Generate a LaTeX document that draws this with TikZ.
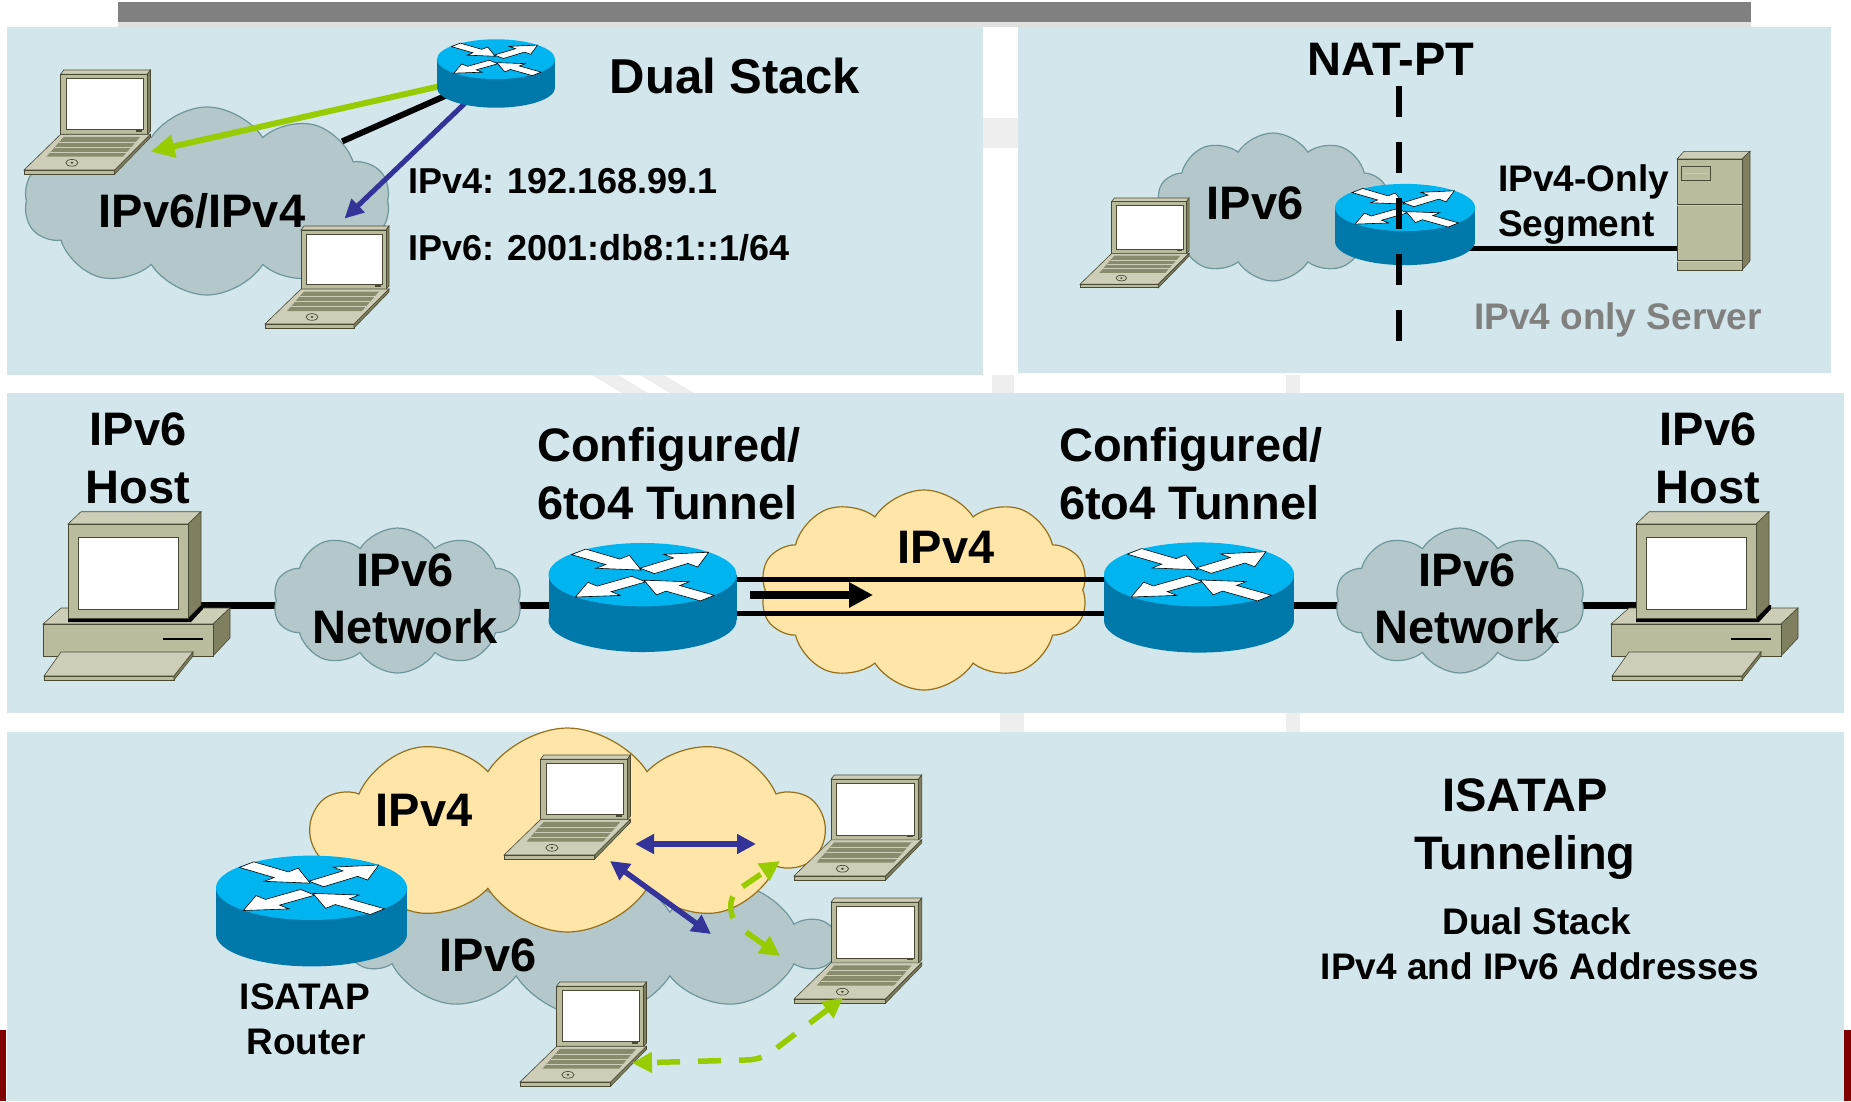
\documentclass[tikz,border=0pt]{standalone}
\usepackage{fontspec}
\setmainfont{Liberation Sans}
\usetikzlibrary{shapes.symbols,arrows.meta}

\definecolor{panel}{RGB}{210,230,236}
\definecolor{barGray}{RGB}{128,128,128}
\definecolor{cloudGray}{RGB}{180,199,203}
\definecolor{cloudGrayEdge}{RGB}{112,150,156}
\definecolor{cloudYel}{RGB}{255,230,168}
\definecolor{cloudYelEdge}{RGB}{150,112,24}
\definecolor{rtTop}{RGB}{0,180,240}
\definecolor{rtSide}{RGB}{0,120,170}
\definecolor{devBody}{RGB}{187,187,158}
\definecolor{devLight}{RGB}{206,206,184}
\definecolor{devSide}{RGB}{128,128,96}
\definecolor{devLine}{RGB}{74,74,52}
\definecolor{keyCol}{RGB}{138,138,108}
\definecolor{arrGreen}{RGB}{153,204,0}
\definecolor{arrBlue}{RGB}{51,51,153}
\definecolor{darkRed}{RGB}{128,0,0}
\definecolor{txtGray}{RGB}{128,128,128}
\definecolor{markGray}{RGB}{238,238,238}

\pgfdeclarelayer{bg}
\pgfdeclarelayer{wires}
\pgfsetlayers{bg,wires,main}

% one white arrow on the router face: start x, start y, direction
\newcommand\rtArrow[3]{%
  \filldraw[fill=white, draw=black, line width=0.6pt, shift={(#1,#2)}, rotate=#3]
    (0,-0.115) -- (0.48,-0.115) -- (0.48,-0.27) -- (0.88,0) -- (0.48,0.27) -- (0.48,0.115) -- (0,0.115) -- cycle;}

\tikzset{
  dev/.style={draw=devLine, line width=0.6pt},
  router/.pic={
    \coordinate (-c) at (0,0);
    \fill[rtSide] (0,0.243) ellipse [x radius=1, y radius=0.337];
    \fill[rtSide] (-1,-0.243) rectangle (1,0.243);
    \fill[rtTop] (0,-0.243) ellipse [x radius=1, y radius=0.337];
    \begin{scope}[shift={(0,-0.243)}, yscale=0.337]
      \rtArrow{-0.68}{-0.72}{-40.8}
      \rtArrow{0.05}{-0.12}{42}
      \rtArrow{-0.04}{0.14}{-140}
      \rtArrow{0.69}{0.74}{140}
    \end{scope}
  },
  laptop/.pic={
    \coordinate (-n) at (78,-6);
    \coordinate (-e) at (124,80);
    \coordinate (-c) at (62,51);
    \filldraw[dev, fill=devLight] (36,4) -- (39,0) -- (124,0) -- (121,4) -- cycle;
    \filldraw[dev, fill=devSide] (121,4) -- (124,0) -- (124,60) -- (121,63) -- cycle;
    \filldraw[dev, fill=devBody] (36,4) rectangle (121,63);
    \filldraw[fill=white, draw=devLine, line width=0.5pt] (41,8) rectangle (117,58);
    \fill[devLine] (110,58.4) rectangle (116,60.6);
    \filldraw[dev, fill=devLight] (36,63) -- (124,63) -- (89,98) -- (0,98) -- cycle;
    \filldraw[dev, fill=devBody] (0,98) rectangle (89,102);
    \filldraw[dev, fill=devSide] (89,98) -- (124,63) -- (124,66) -- (89,102) -- cycle;
    \fill[keyCol] (39,65.5) -- (114,65.5) -- (97,85) -- (22,85) -- cycle;
    \foreach \t in {70.5,75.5,80.5}
      \draw[devLight, line width=0.8pt] ({39-(\t-65.5)*17/19.5},\t) -- ({114-(\t-65.5)*17/19.5},\t);
    \draw[devLine, line width=0.7pt] (47,91) ellipse [x radius=6, y radius=3.3];
    \fill[devLine] (47,91) ellipse [x radius=1.6, y radius=1];
  },
  desktop/.pic={
    \coordinate (-cab) at (120,100.5);
    \filldraw[dev, fill=devLight] (7,119) -- (25,103) -- (194,103) -- (177,119) -- cycle;
    \filldraw[dev, fill=devSide] (177,119) -- (194,103) -- (194,133) -- (177,151) -- cycle;
    \filldraw[dev, fill=devBody] (7,119) rectangle (177,151);
    \draw[black, line width=2.5pt] (127,134) -- (167,134);
    \fill[black] (32,112) -- (153,112) -- (165,100) -- (167,100) -- (167,104) -- (155,117) -- (32,117) -- cycle;
    \filldraw[dev, fill=devLight] (32,19) -- (45,6.7) -- (165,6.7) -- (152,19) -- cycle;
    \filldraw[dev, fill=devSide] (152,19) -- (165,6.7) -- (165,100) -- (152,113) -- cycle;
    \filldraw[dev, fill=devBody] (32,19) rectangle (152,113);
    \filldraw[dev, fill=white] (42,32) rectangle (142,104);
    \filldraw[dev, fill=devLight] (25,147) -- (157,147) -- (138,171) -- (8,171) -- cycle;
    \filldraw[dev, fill=devBody] (8,171) rectangle (138,175);
    \filldraw[dev, fill=devSide] (138,171) -- (157,147) -- (157,151) -- (138,175) -- cycle;
  },
  server/.pic={
    \coordinate (-w) at (12,105);
    \filldraw[dev, fill=devLight] (12,16) -- (19,8.3) -- (85,8.3) -- (77,16) -- cycle;
    \filldraw[dev, fill=devSide] (77,16) -- (85,8.3) -- (85,118) -- (77,127) -- cycle;
    \filldraw[dev, fill=devBody] (12,16) rectangle (77,127);
    \draw[devLine, line width=0.8pt] (12,61) -- (77,61);
    \draw[devLight, line width=0.8pt] (12,62.3) -- (77,62.3);
    \draw[devLine, line width=0.8pt] (12,117) -- (77,117);
    \draw[devLight, line width=0.8pt] (12,118.3) -- (77,118.3);
    \filldraw[dev, fill=devBody] (16,23) rectangle (45,37);
    \draw[devLight, line width=1pt] (20,30) -- (42,30);
  },
  cloudbase/.style={cloud, cloud puffs=10, cloud puff arc=115, cloud ignores aspect,
    inner sep=0pt, line width=1.2pt},
  cloudG/.style={cloudbase, fill=cloudGray, draw=cloudGrayEdge},
  cloudY/.style={cloudbase, fill=cloudYel, draw=cloudYelEdge},
  t47/.style={font=\fontsize{47}{56}\selectfont\bfseries, inner sep=0pt, anchor=base},
  t37/.style={font=\fontsize{37}{44}\selectfont\bfseries, inner sep=0pt, anchor=base},
  t36/.style={font=\fontsize{36}{42}\selectfont\bfseries, inner sep=0pt, anchor=base west},
  wire/.style={black, line width=#1},
  wire/.default=6pt,
  garrow/.style={arrGreen, line width=6pt, -{Triangle[length=24pt,width=22pt]}},
  barrow/.style={arrBlue, line width=5pt, -{Triangle[length=19pt,width=18pt]}},
  bdouble/.style={arrBlue, line width=5.5pt, {Triangle[length=19pt,width=19pt]}-{Triangle[length=19pt,width=19pt]}},
  gdash/.style={arrGreen, line width=5.5pt, dash pattern=on 23pt off 18pt, -{Triangle[length=20pt,width=20pt]}},
  natdash/.style={black, line width=6.5pt, dash pattern=on 31pt off 25pt},
}

\begin{document}
\begin{tikzpicture}[x=1pt,y=-1pt]
\useasboundingbox (0,0) rectangle (1851,1101);

\begin{pgfonlayer}{bg}
  \fill[white] (0,0) rectangle (1851,1101);
  % faint background emblem showing between the panels
  \fill[markGray] (983,118) rectangle (1018,148);
  \fill[markGray] (592,375) -- (618,375) -- (648,393) -- (622,393) -- cycle;
  \fill[markGray] (640,375) -- (664,375) -- (694,393) -- (670,393) -- cycle;
  \fill[markGray] (992,375) rectangle (1014,393);
  \fill[markGray] (1286,375) rectangle (1300,393);
  \fill[markGray] (1000,713) rectangle (1024,732);
  \fill[markGray] (1286,713) rectangle (1300,732);
  \fill[barGray] (118,2) rectangle (1751,22);
  \fill[black!12] (118,22) rectangle (1751,27);
  \fill[panel] (7,27) rectangle (983,375);
  \fill[panel] (1018,27) rectangle (1831,373);
  \fill[panel] (7,393) rectangle (1844,713);
  \fill[panel] (7,732) rectangle (1844,1101);
  \fill[darkRed] (0,1030) rectangle (6,1101);
  \fill[darkRed] (1844,1030) rectangle (1851,1101);
\end{pgfonlayer}

% ---------------- Dual Stack ----------------
\node[cloudG, minimum width=366pt, minimum height=188pt] (cDS) at (207,201) {};
\node[t47] (tDScl) at (202,227) {IPv6/IPv4};
\pic[scale=1.02] (L1) at (24,70) {laptop};
\pic (L2) at (265,226) {laptop};
\coordinate (rDSpos) at (496,73.5);
\begin{pgfonlayer}{wires}
  \draw[wire] (rDSpos) -- (cDS);
\end{pgfonlayer}
\draw[garrow] (rDSpos) -- (L1-e);
\draw[barrow, shorten >=2pt] (rDSpos) -- (L2-n);
\pic[scale=59] (rDS) at (rDSpos) {router};
\node[font=\fontsize{49}{56}\selectfont\bfseries, inner sep=0pt, anchor=base] (tDS) at (735,93) {Dual Stack};
\node[t36] (tV4) at (408,193) {IPv4: 192.168.99.1};
\node[t36] (tV6) at (408,260) {IPv6: 2001:db8:1::1/64};

% ---------------- NAT-PT ----------------
\node[cloudG, minimum width=234pt, minimum height=148pt] (cNAT) at (1273,207) {};
\node[t47] (tNATc) at (1255,219) {IPv6};
\pic[scale=0.88] (L3) at (1080,198) {laptop};
\pic (srv) at (1665,143) {server};
\coordinate (rNATpos) at (1405,224.5);
\begin{pgfonlayer}{wires}
  \draw[wire=5pt] (srv-w) -- (srv-w -| rNATpos);
\end{pgfonlayer}
\pic[scale=70] (rNAT) at (rNATpos) {router};
\coordinate (natT) at (1399,86);
\coordinate (natB) at (1399,342);
\draw[natdash] (natT) -- (natB);
\node[t47] (tNAT) at (1391,75) {NAT-PT};
\node[t37, anchor=base west] (tSeg1) at (1498,191) {IPv4-Only};
\node[t37, anchor=base west] (tSeg2) at (1498,236) {Segment};
\node[t37, text=txtGray] (tSrv) at (1618,329.5) {IPv4 only Server};

% ---------------- Configured / 6to4 tunnel ----------------
\pic (hostL) at (36,505) {desktop};
\pic (hostR) at (1604,505) {desktop};
\coordinate (rM1pos) at (642.5,597.5);
\coordinate (rM2pos) at (1199,597.5);
\node[cloudG, minimum width=249pt, minimum height=145pt] (cM1) at (397.5,600.5) {};
\node[cloudG, minimum width=250pt, minimum height=145pt] (cM2) at (1460,600.5) {};
\node[cloudY, minimum width=328pt, minimum height=200pt] (cY1) at (924,590) {};
\begin{pgfonlayer}{wires}
  \draw[wire=7.5pt] (hostL-cab) -- (hostL-cab -| rM1pos);
  \draw[wire=7.5pt] (hostR-cab) -- (hostR-cab -| rM2pos);
\end{pgfonlayer}
\draw[wire=5pt] ([yshift=18.5pt]rM1pos) -- ([yshift=18.5pt]rM2pos);
\draw[wire=5pt] ([yshift=-15.5pt]rM1pos) -- ([yshift=-15.5pt]rM2pos);
\coordinate (tunS) at (750,595);
\coordinate (tunE) at (873,595);
\draw[black, line width=8pt, -{Triangle[length=24pt,width=24pt]}] (tunS) -- (tunE);
\pic[scale=94] (rM1) at (rM1pos) {router};
\pic[scale=95] (rM2) at (rM2pos) {router};
\node[t47] (tH1a) at (138,445) {IPv6};
\node[t47] (tH1b) at (138,503) {Host};
\node[t47] (tH2a) at (1708,445) {IPv6};
\node[t47] (tH2b) at (1708,503) {Host};
\node[t47, anchor=base west] (tC1a) at (537,461) {Configured/};
\node[t47, anchor=base west] (tC1b) at (537,519) {6to4 Tunnel};
\node[t47, anchor=base west] (tC2a) at (1059,461) {Configured/};
\node[t47, anchor=base west] (tC2b) at (1059,519) {6to4 Tunnel};
\node[t47] (tN1a) at (405,586) {IPv6};
\node[t47] (tN1b) at (405,643) {Network};
\node[t47] (tN2a) at (1467,586) {IPv6};
\node[t47] (tN2b) at (1467,643) {Network};
\node[t47] (tY1) at (946,563) {IPv4};

% ---------------- ISATAP ----------------
\node[cloudG, minimum width=484pt, minimum height=148pt] (cG2) at (593,944) {};
\node[cloudY, minimum width=511pt, minimum height=204pt] (cY2) at (567.5,830) {};
\pic[scale=95.5] (rIS) at (311.5,911) {router};
\pic[scale=1.02] (LA) at (504,755) {laptop};
\pic[scale=1.03] (LB) at (794,775) {laptop};
\pic[scale=1.03] (LC) at (794,898) {laptop};
\pic[scale=1.02] (LD) at (520,982) {laptop};
\node[t47] (tY2) at (424,826) {IPv4};
\node[t47] (tG2) at (488,971) {IPv6};
\node[t37] (tR1) at (305,1009) {ISATAP};
\node[t37] (tR2) at (306,1054) {Router};

\coordinate (h1) at (635,844);
\coordinate (h2) at (756,844);
\coordinate (d1) at (610,861);
\coordinate (d2) at (711,934);
\draw[bdouble] (h1) -- (h2);
\draw[bdouble] (d1) -- (d2);

\coordinate (g1s) at (733,918);
\coordinate (g1e) at (780,861);
\coordinate (g2s) at (746,932);
\coordinate (g2e) at (780,956);
\coordinate (g3s) at (843,998);
\coordinate (g3e) at (632,1063);
\draw[gdash, dash pattern=on 22pt off 14pt] (g1s) .. controls (727,902) and (733,892) .. (745,885) -- (g1e);
\draw[gdash] (g2s) -- (g2e);
\draw[gdash, {Triangle[length=20pt,width=20pt]}-{Triangle[length=20pt,width=20pt]}]
  (g3s) -- (778,1047) .. controls (768,1055) and (760,1060) .. (745,1060) -- (g3e);

\node[t47] (tI1) at (1525,811) {ISATAP};
\node[t47] (tI2) at (1525,869) {Tunneling};
\node[t37] (tI3) at (1537,934.5) {Dual Stack};
\node[t37] (tI4) at (1540,979.5) {IPv4 and IPv6 Addresses};
\end{tikzpicture}
\end{document}
